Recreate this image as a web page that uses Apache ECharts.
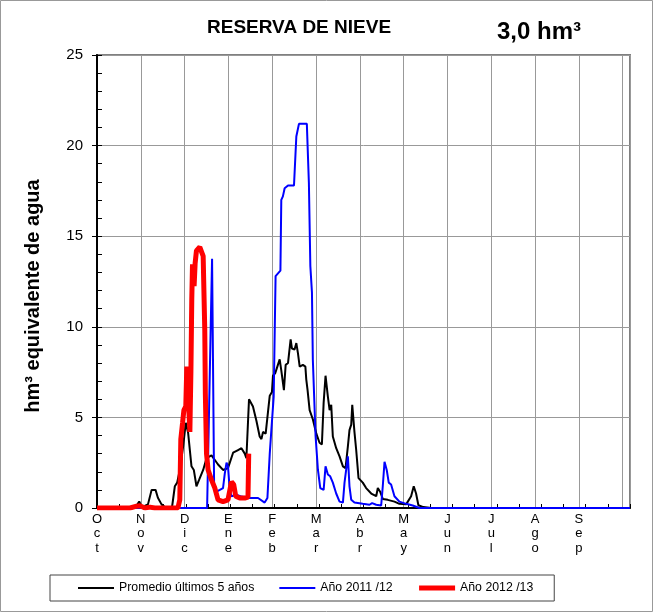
<!DOCTYPE html>
<html>
<head>
<meta charset="utf-8">
<script src="https://cdn.jsdelivr.net/npm/echarts@6/dist/echarts.min.js"></script>
<style>
  html, body { margin: 0; padding: 0; background: #fff; }
  #chart { width: 653px; height: 612px; }
</style>
</head>
<body>
<div id="chart"></div>
<script>
// meses del año hidrológico (oct - sep), eje en días
const meses = ['Oct', 'Nov', 'Dic', 'Ene', 'Feb', 'Mar', 'Abr', 'May', 'Jun', 'Jul', 'Ago', 'Sep'];
const yTicks = [0, 5, 10, 15, 20, 25];

// [día, hm3]
const promedio = [
  [0, 0], [26, 0], [28.9, 0.36], [30.8, 0.05], [34.9, 0.2], [37.4, 1.0], [40.1, 1.0], [41.7, 0.57],
  [44.2, 0.2], [46.5, 0.05], [51.3, 0], [53.3, 1.2], [54.9, 1.4], [56.7, 2.1], [59.0, 3.4],
  [60.8, 4.7], [62.4, 4.15], [64.7, 2.3], [66.3, 2.1], [68.1, 1.2], [69.9, 1.55], [72.7, 2.1],
  [75.0, 2.75], [78.4, 2.9], [80.7, 2.65], [82.9, 2.4], [86.3, 2.1], [89.7, 2.2], [93.2, 3.05],
  [96.6, 3.2], [98.9, 3.3], [101.2, 3.0], [102.3, 2.75], [104.1, 6.0], [106.8, 5.6], [109.2, 4.8],
  [111.4, 3.95], [112.6, 3.8], [113.7, 4.2], [115.5, 4.1], [117.1, 5.3], [118.3, 6.2], [119.8, 6.4],
  [120.5, 7.3], [122.1, 7.45], [123.5, 7.8], [125.1, 8.2], [126.2, 7.6], [128.0, 6.5], [129.2, 7.9],
  [130.8, 8.0], [131.9, 8.05], [132.6, 9.3], [133.5, 8.8], [135.3, 8.75], [136.5, 9.1], [137.6, 8.55],
  [138.8, 7.8], [141.0, 7.9], [142.7, 7.8], [143.3, 7.1], [144.2, 6.5], [145.6, 5.4], [147.8, 4.9],
  [150.2, 4.1], [152.4, 3.6], [154.0, 3.5], [155.2, 5.8], [156.5, 7.3], [158.1, 6.15], [159.3, 5.4],
  [160.4, 5.7], [161.5, 3.95], [163.8, 3.3], [166.1, 2.85], [168.4, 2.3], [170.2, 2.2], [171.8, 3.4],
  [172.9, 4.3], [174.1, 4.6], [174.8, 5.7], [176.3, 4.2], [177.5, 3.2], [179.1, 1.65], [182.0, 1.4],
  [184.3, 1.1], [187.8, 0.8], [191.2, 0.65], [192.3, 1.1], [193.9, 0.9], [195.7, 0.5], [199.1, 0.45],
  [203.7, 0.35], [207.1, 0.23], [211.7, 0.2], [215.1, 0.65], [216.9, 1.2], [218.5, 0.8], [220.1, 0.15],
  [223.5, 0.05], [226.2, 0.03], [229, 0], [365, 0]
];

const anio1112 = [
  [0, 0], [75.4, 0], [76.1, 0], [78.8, 13.75], [80.2, 1.2], [81.8, 0.9], [84.1, 1.0], [86.3, 1.1],
  [87.5, 1.9], [88.7, 2.5], [89.7, 2.3], [90.9, 1.0], [92.1, 0.65], [95.5, 0.73], [98.9, 0.63],
  [104.6, 0.55], [110.3, 0.55], [114.8, 0.3], [116.7, 0.55], [118.3, 3.0], [119.4, 4.3], [121.0, 6.15],
  [122.3, 12.8], [122.8, 12.9], [125.6, 13.1], [126.2, 17.0], [127.3, 17.2], [128.5, 17.65], [130.8, 17.8],
  [134.9, 17.8], [136.5, 20.5], [138.3, 21.2], [143.7, 21.2], [145.1, 17.95], [146.1, 13.35], [147.2, 11.9],
  [147.8, 8.2], [149.7, 3.95], [151.3, 2.1], [152.9, 1.1], [155.2, 1.0], [156.5, 2.3], [158.1, 1.85],
  [159.7, 1.75], [161.5, 1.4], [163.8, 0.8], [166.1, 0.35], [168.4, 0.3], [169.5, 1.4], [170.7, 1.45],
  [171.8, 2.85], [172.9, 1.2], [174.1, 0.45], [176.3, 0.3], [182.0, 0.23], [186.6, 0.18], [188.4, 0.27],
  [191.2, 0.18], [194.6, 0.14], [195.7, 1.2], [196.9, 2.55], [198.4, 2.1], [199.8, 1.4], [201.4, 1.3],
  [203.7, 0.65], [207.1, 0.35], [211.7, 0.23], [216.2, 0.14], [220.8, 0], [365, 0]
];

const anio1213 = [
  [0, 0], [22.6, 0], [27.1, 0.1], [29.4, 0.12], [32.8, 0], [36.2, 0.05], [39.6, 0], [55.4, 0],
  [56.7, 0.45], [57.4, 3.8], [58.6, 4.7], [59.5, 5.4], [60.8, 5.6], [61.5, 7.8], [62.5, 7.9],
  [63.6, 4.2], [64.3, 7.5], [64.9, 11.5], [65.4, 13.45], [66.5, 12.25], [67.2, 13.5], [68.1, 14.2],
  [70.4, 14.4], [71.6, 14.4], [72.7, 13.9], [73.8, 9.85], [74.2, 6.3], [75.0, 3.0], [76.1, 2.1],
  [78.4, 1.55], [80.7, 1.1], [82.9, 0.45], [86.3, 0.35], [89.7, 0.45], [92.1, 1.45], [93.6, 1.3],
  [95.0, 0.65], [97.7, 0.55], [101.2, 0.55], [103.4, 0.6], [103.9, 3.0]
];

const FONT = 'Arial, "Liberation Sans", sans-serif';

const chart = echarts.init(document.getElementById('chart'));

const option = {
  animation: false,
  backgroundColor: '#fff',
  title: [
    { text: 'RESERVA DE NIEVE', left: 207, top: 18, padding: 0,
      textStyle: { fontFamily: FONT, fontSize: 19, fontWeight: 'bold', color: '#000' } },
    { text: '3,0 hm³', left: 497, top: 20, padding: 0,
      textStyle: { fontFamily: FONT, fontSize: 24, fontWeight: 'bold', color: '#000' } }
  ],
  graphic: [
    { type: 'rect', shape: { x: 0.5, y: 0.5, width: 652, height: 611 },
      style: { fill: 'none', stroke: '#999', lineWidth: 1 }, silent: true },
    // título del eje Y
    { type: 'text', x: 33, y: 296, rotation: Math.PI / 2, silent: true,
      style: { text: 'hm³ equivalente de agua', align: 'center', verticalAlign: 'middle',
        font: 'bold 20px ' + FONT, fill: '#000' } }
  ],
  legend: {
    left: 50, top: 575,
    padding: [7, 21, 7, 27],
    borderColor: '#444', borderWidth: 1,
    itemWidth: 36, itemHeight: 12, itemGap: 24,
    itemStyle: { opacity: 0 },
    textStyle: { fontFamily: FONT, fontSize: 12.3, color: '#000' },
    data: [
      { name: 'Promedio últimos 5 años' },
      { name: 'Año 2011 /12' },
      { name: 'Año 2012 /13', lineStyle: { width: 5 } }
    ]
  },
  grid: {
    left: 97, right: 23, top: 55, bottom: 104,
    show: true, borderColor: '#808080', borderWidth: 2, backgroundColor: '#fff'
  },
  xAxis: [
    {
      type: 'value', min: 0, max: 365, interval: 30,
      axisLine: { lineStyle: { color: '#000', width: 2 } },
      axisTick: { show: false },
      splitLine: { show: true, lineStyle: { color: '#999', width: 1 } },
      axisLabel: {
        margin: 4, fontFamily: FONT, fontSize: 13, color: '#000', lineHeight: 14.5,
        showMaxLabel: false,
        formatter: function (v) {
          if (v % 30 !== 0 || v >= 360) return '';
          return meses[v / 30].split('').join('\n');
        }
      }
    },
    {
      // marcas intermedias (cada quincena)
      type: 'value', min: 0, max: 360, interval: 15, position: 'bottom',
      axisLine: { show: false },
      axisTick: { show: true, inside: true, length: 4, lineStyle: { color: '#000' } },
      axisLabel: { show: false }, splitLine: { show: false }
    }
  ],
  yAxis: [
    {
      type: 'value', min: 0, max: 25, interval: 5,
      axisLine: { show: true, lineStyle: { color: '#000', width: 2 } },
      axisTick: { show: true, length: 5, lineStyle: { color: '#000' } },
      axisLabel: { fontFamily: FONT, fontSize: 15, color: '#000', margin: 14,
        formatter: function (v) { return yTicks.indexOf(v) >= 0 ? String(v) : ''; } },
      splitLine: { show: true, lineStyle: { color: '#999', width: 1 } }
    },
    {
      // marcas menores del eje Y
      type: 'value', min: 0, max: 25, interval: 1, position: 'left',
      axisLine: { show: false },
      axisTick: { show: true, inside: true, length: 5, lineStyle: { color: '#000' } },
      axisLabel: { show: false }, splitLine: { show: false }
    }
  ],
  series: [
    {
      name: 'Promedio últimos 5 años', type: 'line', data: promedio,
      symbol: 'none', lineStyle: { color: '#000', width: 2 }, itemStyle: { color: '#000' }, z: 3
    },
    {
      name: 'Año 2011 /12', type: 'line', data: anio1112,
      symbol: 'none', lineStyle: { color: '#0000ff', width: 2 }, itemStyle: { color: '#0000ff' }, z: 4
    },
    {
      name: 'Año 2012 /13', type: 'line', data: anio1213,
      symbol: 'none', lineStyle: { color: '#ff0000', width: 5 }, itemStyle: { color: '#ff0000' }, z: 5
    }
  ]
};

chart.setOption(option);
</script>
</body>
</html>
